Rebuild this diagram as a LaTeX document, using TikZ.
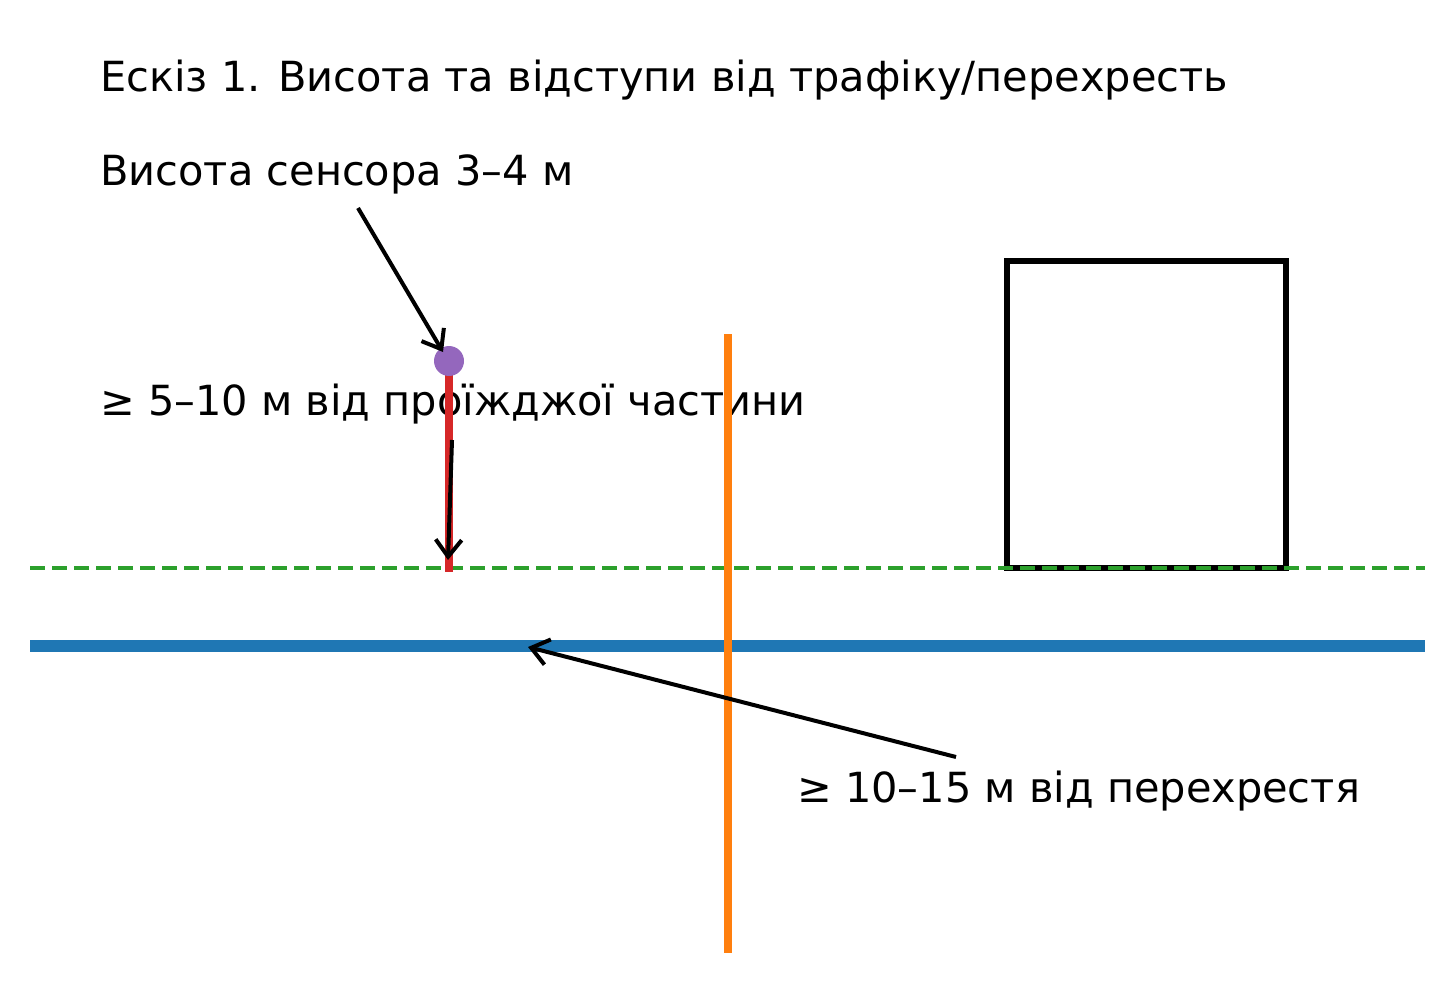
\documentclass[tikz,border=0pt]{standalone}
\usepackage{fontspec}
\setmainfont{DejaVu Sans}
\usetikzlibrary{arrows.meta}
\definecolor{roadblue}{HTML}{1F77B4}
\definecolor{crossorange}{HTML}{FF7F0E}
\definecolor{edgegreen}{HTML}{2CA02C}
\definecolor{polered}{HTML}{D62728}
\definecolor{sensorpurple}{HTML}{9467BD}
\tikzset{
	sketchtext/.style={anchor=base west,inner sep=0pt,font=\fontsize{41.5}{50}\selectfont},
	pointer/.style={line width=4pt,-{Straight Barb[length=17pt,width=26pt]}},
}

\begin{document}
\begin{tikzpicture}[x=1pt,y=-1pt]
	\useasboundingbox (0,0) rectangle (1455,984);
	\node[sketchtext] (title) at (100,92) {Ескіз 1. Висота та відступи від трафіку/перехресть};
	\node[sketchtext] (height) at (100,186) {Висота сенсора 3–4 м};
	\node[sketchtext] (roadgap) at (100,415) {≥ 5–10 м від проїжджої частини};
	\node[sketchtext] (crossgap) at (797,802) {≥ 10–15 м від перехрестя};
	\draw[line width=6pt] (1007,261) rectangle (1286,568);
	\draw[edgegreen,line width=3.5pt,dash pattern=on 15pt off 7pt] (30,568)--(1425,568);
	\draw[roadblue,line width=12pt] (30,646)--(1425,646);
	\draw[crossorange,line width=8pt] (728,334)--(728,953);
	\draw[polered,line width=7.5pt] (449,361)--(449,572);
	\node[circle,fill=sensorpurple,minimum size=30pt,inner sep=0pt] (sensor) at (449,361) {};
	\coordinate (heightfrom) at (358,208);
	\coordinate (heightto) at (443,352);
	\coordinate (roadfrom) at (452,440);
	\coordinate (roadto) at (448,560);
	\coordinate (crossfrom) at (956,757);
	\coordinate (crossto) at (528,647);
	\draw[pointer] (heightfrom)--(heightto);
	\draw[pointer] (roadfrom)--(roadto);
	\draw[pointer] (crossfrom)--(crossto);
\end{tikzpicture}
\end{document}
